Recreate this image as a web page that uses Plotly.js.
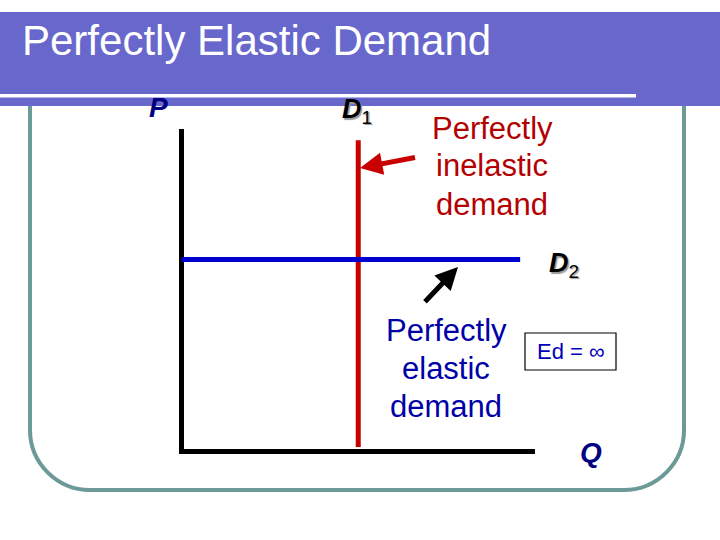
<!DOCTYPE html>
<html>
<head>
<meta charset="utf-8">
<script src="https://cdn.plot.ly/plotly-3.0.1.min.js"></script>
<style>html,body{margin:0;padding:0;background:#fff;}#chart{width:720px;height:540px;}</style>
</head>
<body>
<div id="chart"></div>
<script>
// ---- data (quantity Q, price P in arbitrary units) ----
const axisQ = [0, 0, 10];
const axisP = [10, 0, 0];
const d1Q = [5, 5];          // perfectly inelastic demand D1 (vertical)
const d1P = [0.14, 9.65];
const d2Q = [0, 9.58];       // perfectly elastic demand D2 (horizontal)
const d2P = [5.95, 5.95];
const titleText = "Perfectly Elastic Demand";
const inelasticLines = ["Perfectly", "inelastic", "demand"];
const elasticLines = ["Perfectly", "elastic", "demand"];
const edText = "Ed = ∞";

// ---- helpers: page pixel -> paper fraction ----
const W = 720, H = 540;
const X = px => px / W;
const Y = py => 1 - py / H;
const FONT = "Liberation Sans, Arial, sans-serif";

const traces = [
  {x: axisQ, y: axisP, mode: "lines", line: {color: "#000000", width: 5}, hoverinfo: "skip"},
  {x: d1Q, y: d1P, mode: "lines", line: {color: "#C80000", width: 5}, hoverinfo: "skip"},
  {x: d2Q, y: d2P, mode: "lines", line: {color: "#0000D0", width: 5}, hoverinfo: "skip"}
];

// border path (rounded bottom corners)
const r = 60, k = 33, L = 30, R = 684, T = 106, B = 490;
const p = (x, y) => X(x) + "," + Y(y);
const borderPath = "M" + p(L, T) + " L" + p(L, B - r) +
  " C" + p(L, B - r + k) + " " + p(L + r - k, B) + " " + p(L + r, B) +
  " L" + p(R - r, B) +
  " C" + p(R - r + k, B) + " " + p(R, B - r + k) + " " + p(R, B - r) +
  " L" + p(R, T);

const shapes = [
  {type: "path", xref: "paper", yref: "paper", path: borderPath, line: {color: "#6B9A98", width: 4}, layer: "below"},
  {type: "rect", xref: "paper", yref: "paper", x0: X(0), x1: X(720), y0: Y(12), y1: Y(106), fillcolor: "#6767CC", line: {width: 0}},
  {type: "rect", xref: "paper", yref: "paper", x0: X(0), x1: X(636), y0: Y(94), y1: Y(97.5), fillcolor: "#FFFFFF", line: {width: 0}},
  {type: "rect", xref: "paper", yref: "paper", x0: X(525), x1: X(616), y0: Y(333), y1: Y(370), fillcolor: "rgba(0,0,0,0)", line: {color: "#000000", width: 1.2}}
];

const ann = [];
function txt(text, px, py, size, color, opts, fontExtra) {
  ann.push(Object.assign({
    text: text, xref: "paper", yref: "paper", x: X(px), y: Y(py),
    xanchor: "center", yanchor: "middle", showarrow: false,
    font: Object.assign({family: FONT, size: size, color: color}, fontExtra || {})
  }, opts || {}));
}
// title
txt(titleText, 20, 40, 42, "#FFFFFF", {xanchor: "left"});
// axis labels
txt("<b><i>P</i></b>", 158, 108, 28, "#000080");
txt("<b><i>Q</i></b>", 591, 452, 28, "#000080");
// D1 / D2 with slight shadow
txt("<b><i>D</i></b><sub>1</sub>", 340, 111, 27, "#000000", {xanchor: "left"}, {shadow: "1.5px 1.5px 1px #9A9A9A"});
txt("<b><i>D</i></b><sub>2</sub>", 547, 265, 27, "#000000", {xanchor: "left"}, {shadow: "1.5px 1.5px 1px #9A9A9A"});
// explanatory text
const inY = [128, 166, 204];
inelasticLines.forEach((s, i) => txt(s, 492, inY[i], 31, "#B40000"));
const elY = [330, 368, 406];
elasticLines.forEach((s, i) => txt(s, 446, elY[i], 31, "#0000A8"));
txt(edText, 571, 351.5, 22, "#0000B8");
// arrows (tip at x,y; tail offset in pixels)
ann.push({xref: "paper", yref: "paper", x: X(360), y: Y(168), ax: 418 - 360, ay: 157 - 168, text: " ",
  showarrow: true, arrowhead: 2, arrowsize: 0.9, arrowwidth: 5, arrowcolor: "#C80000", standoff: 0});
ann.push({xref: "paper", yref: "paper", x: X(458), y: Y(267), ax: 422 - 458, ay: 305 - 267, text: " ",
  showarrow: true, arrowhead: 2, arrowsize: 0.9, arrowwidth: 5, arrowcolor: "#000000", standoff: 0});

// x range so that Q=0 at px 181.5, Q=10 at px 535; y so that P=0 at py 451.5, P=10 at py 129
const qPx = (535 - 181.5) / 10, pPx = (451.5 - 129) / 10;
const layout = {
  width: W, height: H, autosize: false,
  margin: {l: 0, r: 0, t: 0, b: 0, pad: 0},
  paper_bgcolor: "#FFFFFF", plot_bgcolor: "rgba(0,0,0,0)",
  showlegend: false,
  xaxis: {range: [-181.5 / qPx, (W - 181.5) / qPx], visible: false, fixedrange: true},
  yaxis: {range: [(451.5 - H) / pPx, 451.5 / pPx], visible: false, fixedrange: true},
  shapes: shapes, annotations: ann
};
Plotly.newPlot("chart", traces, layout, {staticPlot: true, displayModeBar: false});
</script>
</body>
</html>
